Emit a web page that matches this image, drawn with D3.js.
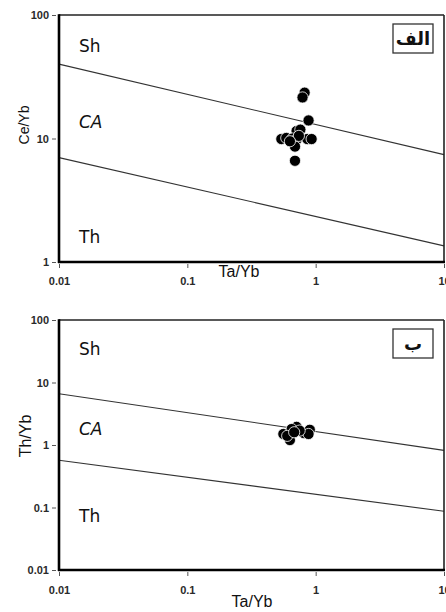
<!DOCTYPE html>
<html>
<head>
<meta charset="utf-8">
<script src="https://cdn.jsdelivr.net/npm/d3@7"></script>
<style>
  html, body { margin: 0; padding: 0; background: #fff; }
  svg { display: block; }
  .tick text { font-family: "Liberation Sans", Arial, sans-serif; font-weight: bold; font-size: 11px; fill: #2a2a2a; }
  .tick line { stroke: #555; }
  .domain { display: none; }
</style>
</head>
<body>
<svg id="chart" width="446" height="612"></svg>
<script>
// Ta/Yb shared by both diagrams
const taYbTicks = [0.01, 0.1, 1, 10];

// Panel "الف": Ce/Yb vs Ta/Yb
const ceYbTicks = [1, 10, 100];
const ceTaYb = [0.82, 0.79, 0.88, 0.71, 0.76, 0.54, 0.59, 0.66, 0.71, 0.86, 0.93, 0.69, 0.69, 0.74, 0.63];
const ceYb   = [23.5, 21.5, 14.0, 11.5, 11.8, 9.9, 10.1, 10.0, 9.8, 9.9, 9.9, 8.6, 6.6, 10.5, 9.5];
// boundary lines (value at Ta/Yb = 0.01 and 10)
const ceUpper = [[0.01, 40], [10, 7.4]];
const ceLower = [[0.01, 7.0], [10, 1.35]];

// Panel "ب": Th/Yb vs Ta/Yb
const thYbTicks = [0.01, 0.1, 1, 10, 100];
const thTaYb = [0.71, 0.63, 0.81, 0.56, 0.90, 0.65, 0.88, 0.75, 0.60, 0.68];
const thYb   = [1.95, 1.2, 1.55, 1.5, 1.75, 1.8, 1.5, 1.7, 1.4, 1.6];
const thUpper = [[0.01, 6.6], [10, 0.82]];
const thLower = [[0.01, 0.57], [10, 0.087]];

const regionNames = ["Sh", "CA", "Th"];

const svg = d3.select("#chart");
const fmt = d => (d >= 1 ? d3.format("d")(d) : String(d));

function panel(opts) {
  const x = d3.scaleLog().domain([0.01, 10]).range([59, 444]);
  const y = d3.scaleLog().domain(opts.yDomain).range(opts.yRange);
  const g = svg.append("g");
  const [top, bottom] = [opts.yRange[1], opts.yRange[0]];

  // boundary lines
  const line = d3.line().x(d => x(d[0])).y(d => y(d[1]));
  [opts.upper, opts.lower].forEach(seg => {
    g.append("path").attr("d", line(seg))
      .attr("fill", "none").attr("stroke", "#333").attr("stroke-width", 1.1);
  });

  // frame: thin top/right, heavy left/bottom
  g.append("line").attr("x1", 59).attr("x2", 444).attr("y1", top).attr("y2", top)
    .attr("stroke", "#222").attr("stroke-width", 1.6);
  g.append("line").attr("x1", 444).attr("x2", 444).attr("y1", top).attr("y2", bottom)
    .attr("stroke", "#222").attr("stroke-width", 1.6);
  g.append("line").attr("x1", 59).attr("x2", 59).attr("y1", top - 0.8).attr("y2", bottom + 1)
    .attr("stroke", "#000").attr("stroke-width", 2.6);
  g.append("line").attr("x1", 58).attr("x2", 445).attr("y1", bottom).attr("y2", bottom)
    .attr("stroke", "#000").attr("stroke-width", 2.6);

  // axes
  g.append("g").attr("transform", `translate(56,0)`)
    .call(d3.axisLeft(y).tickValues(opts.yTicks).tickFormat(fmt).tickSize(4).tickPadding(3));
  g.append("g").attr("transform", `translate(0,${bottom + 2})`)
    .call(d3.axisBottom(x).tickValues(taYbTicks).tickFormat(fmt).tickSize(4).tickPadding(opts.xPad));

  // axis titles
  g.append("text").attr("x", opts.xTitle[0]).attr("y", opts.xTitle[1])
    .attr("text-anchor", "middle")
    .style("font-family", "Liberation Sans, Arial, sans-serif").style("font-size", "16px")
    .style("fill", "#111").text("Ta/Yb");
  g.append("text")
    .attr("transform", `translate(${opts.yTitle[0]},${opts.yTitle[1]}) rotate(-90)`)
    .attr("text-anchor", "middle")
    .style("font-family", "Liberation Sans, Arial, sans-serif").style("font-size", opts.yTitleSize)
    .style("fill", "#111").text(opts.yLabel);

  // region labels
  regionNames.forEach((name, i) => {
    g.append("text").attr("x", 79).attr("y", opts.regionY[i])
      .style("font-family", "DejaVu Sans, sans-serif").style("font-size", "17px")
      .style("font-style", name === "CA" ? "italic" : "normal")
      .style("fill", "#111").text(name);
  });

  // panel tag
  g.append("rect").attr("x", 393).attr("y", opts.tagY).attr("width", 40).attr("height", 29)
    .attr("fill", "#fff").attr("stroke", "#333").attr("stroke-width", 1.3);
  g.append("text").attr("x", 413).attr("y", opts.tagY + 21)
    .attr("text-anchor", "middle")
    .style("font-family", "DejaVu Sans, sans-serif").style("font-weight", "bold").style("font-size", "18px")
    .style("fill", "#111").text(opts.tag);

  // samples
  g.append("g").selectAll("circle")
    .data(opts.xs.map((v, i) => [v, opts.ys[i]]))
    .join("circle")
    .attr("cx", d => x(d[0])).attr("cy", d => y(d[1])).attr("r", 5.6)
    .attr("fill", "#000").attr("stroke", "#fff").attr("stroke-width", 0.8);
}

panel({
  yDomain: [1, 100], yRange: [262, 15], yTicks: ceYbTicks,
  upper: ceUpper, lower: ceLower, xs: ceTaYb, ys: ceYb,
  xTitle: [239, 277], yTitle: [29, 125], yLabel: "Ce/Yb", yTitleSize: "14px",
  regionY: [52, 128, 243], tag: "الف", tagY: 24, xPad: 9
});

panel({
  yDomain: [0.01, 100], yRange: [570, 320], yTicks: thYbTicks,
  upper: thUpper, lower: thLower, xs: thTaYb, ys: thYb,
  xTitle: [252, 607], yTitle: [31, 436], yLabel: "Th/Yb", yTitleSize: "16px",
  regionY: [355, 435, 522], tag: "ب", tagY: 329, xPad: 10
});
</script>
</body>
</html>
